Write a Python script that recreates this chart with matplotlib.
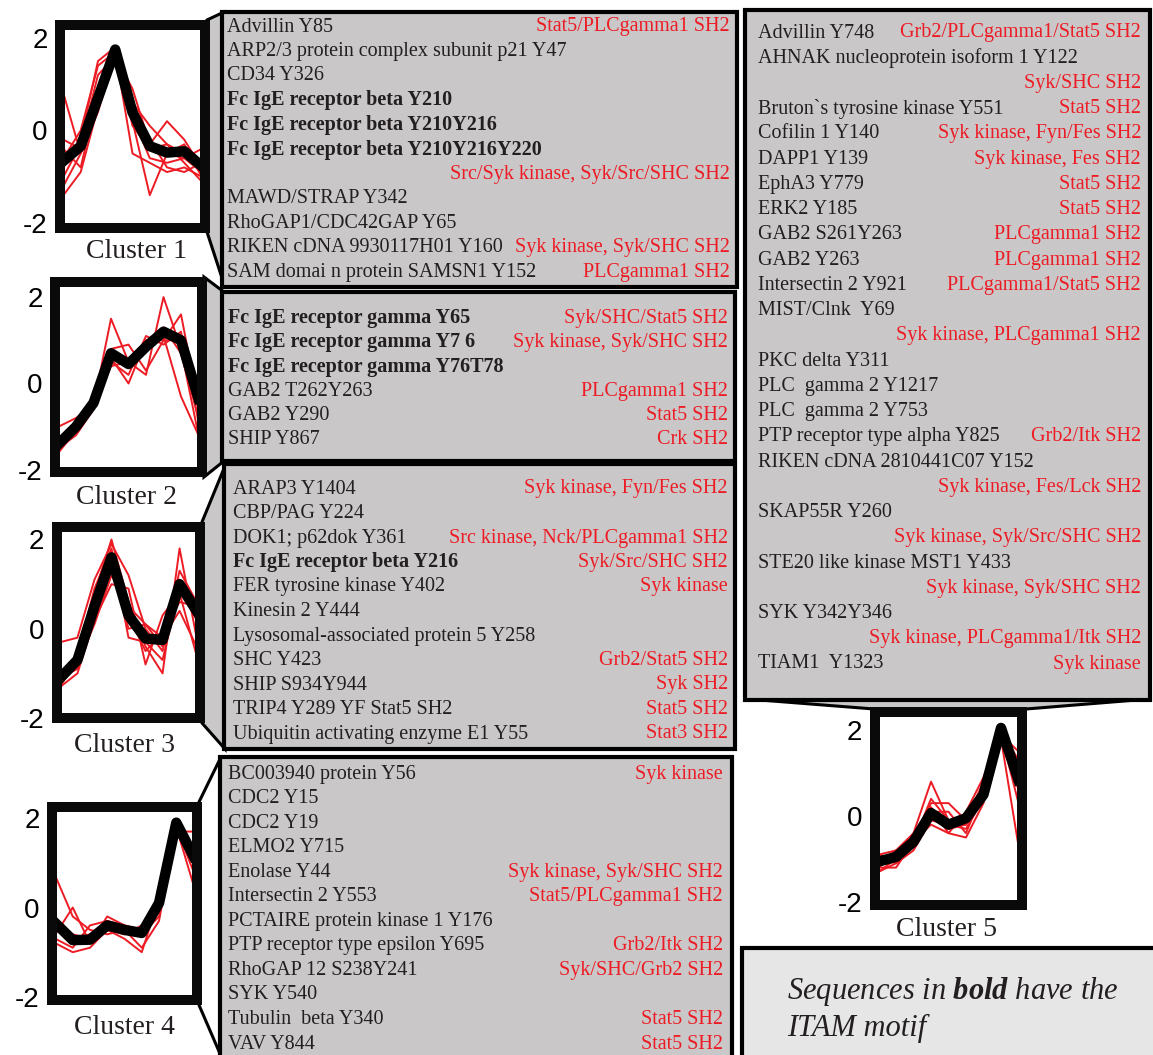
import numpy as np
import matplotlib.pyplot as plt
from matplotlib.patches import Rectangle, Polygon

W, H = 1153, 1055
RED = "#ED1C24"
INK = "#231F20"
BOX_GRAY = "#C9C7C8"
NOTE_GRAY = "#E6E6E6"

# ---- cluster profiles (9 time points, z-scored) ----
c1_profiles = [
    [-0.8, -0.2, 1.5, 1.8, 0.4, -0.3, -0.5, -0.6, -0.9],
    [0.8, -0.5, 0.6, 1.8, 0.6, 0.1, -0.3, -0.5, -0.8],
    [-1.4, -0.9, 0.5, 1.7, 0.2, -1.4, -0.5, -0.3, -1.0],
    [-1.0, -0.3, 1.2, 1.6, 0.9, -0.3, 0.2, -0.2, -0.8],
    [-0.4, -0.8, 0.8, 1.8, 0.3, -0.6, -0.7, -0.6, -0.4],
    [-0.6, 0.0, 1.4, 1.7, -0.5, -0.7, -0.9, -0.8, -1.0],
    [-1.2, -0.5, 0.4, 1.7, 0.6, -0.2, -0.8, -0.9, -0.7],
    [-0.2, -0.4, 0.9, 1.8, 0.1, -0.4, -0.3, -0.7, -1.1],
]
c1_mean = [-0.66, -0.34, 0.7, 1.75, 0.39, -0.34, -0.48, -0.45, -0.77]

c2_profiles = [
    [-1.0, -0.8, -0.5, 1.5, 0.5, 0.2, 2.0, 0.8, -1.2],
    [-1.5, -1.1, -0.3, 0.8, 0.9, 0.3, 1.0, 1.6, -0.5],
    [-1.3, -1.0, -0.5, 0.5, 0.2, 1.1, 0.9, 1.2, -0.9],
    [-1.5, -1.2, -0.6, 0.7, 0.4, 0.8, 1.3, 0.7, -0.8],
    [-1.4, -0.9, -0.3, 0.6, 0.0, 1.0, 1.1, -0.3, -1.2],
    [-1.6, -1.1, -0.5, 0.4, 0.5, 1.0, 1.0, 1.0, -0.6],
]
c2_mean = [-1.4, -1.0, -0.45, 0.7, 0.45, 0.85, 1.2, 1.0, -0.35]

c3_profiles = [
    [-1.2, -0.8, 0.8, 2.0, 0.6, -0.4, -1.0, 1.8, -0.2],
    [-0.3, -0.2, 1.1, 1.9, 1.2, 0.0, -0.5, 1.1, 0.3],
    [-1.3, -1.0, 0.2, 1.0, 0.9, -0.8, 0.3, 0.8, -0.6],
    [-1.1, -0.9, 0.4, 1.5, 0.0, 0.1, -0.4, 1.3, 0.6],
    [-1.2, -0.7, 0.6, 1.7, 0.3, -0.5, -0.1, 0.6, 0.5],
    [-1.3, -0.6, 0.9, 1.8, -0.2, -0.3, -0.7, 0.9, 0.2],
    [-1.0, -0.8, 0.1, 1.2, 0.5, 0.1, -0.2, 0.4, -0.4],
]
c3_mean = [-1.1, -0.7, 0.5, 1.6, 0.3, -0.22, -0.25, 1.0, 0.4]

c4_profiles = [
    [0.7, -0.2, -0.5, -0.6, -0.5, -0.9, -0.3, 1.8, 0.5],
    [-0.7, -0.9, -0.4, -0.3, -0.6, -0.5, 0.0, 1.7, 1.7],
    [-0.6, 0.0, -0.8, -0.2, -0.4, -0.6, -0.2, 1.9, 1.0],
    [-0.8, -1.0, -0.9, -0.5, -0.7, -1.0, 0.2, 1.6, 1.4],
    [-0.5, -0.7, -0.6, -0.3, -0.4, -0.5, -0.1, 1.8, 0.8],
    [-0.3, -0.6, -0.7, -0.5, -0.6, -0.4, 0.1, 1.9, 1.3],
]
c4_mean = [-0.35, -0.73, -0.72, -0.4, -0.5, -0.57, 0.1, 1.9, 1.15]

c5_profiles = [
    [-0.9, -0.8, -0.4, 0.8, -0.1, -0.2, 0.6, 1.9, 0.9],
    [-1.3, -1.0, -0.7, 0.2, -0.3, 0.0, 0.7, 1.8, -0.7],
    [-1.2, -1.2, -0.6, -0.2, -0.4, -0.5, 0.3, 2.0, 1.3],
    [-1.0, -0.9, -0.7, 0.3, 0.3, -0.1, 0.4, 2.0, 0.6],
    [-1.1, -1.0, -0.5, 0.0, -0.3, -0.2, 0.5, 1.9, 1.5],
    [-1.3, -1.1, -0.8, -0.1, -0.2, -0.1, 0.8, 2.0, 1.0],
    [-0.9, -1.0, -0.6, 0.1, 0.1, -0.4, 0.6, 1.9, 0.3],
    [-1.2, -0.9, -0.4, 0.2, -0.4, 0.1, 0.9, 2.0, 1.2],
    [-1.0, -1.1, -0.7, 0.0, -0.2, -0.3, 0.4, 1.8, 0.8],
    [-1.1, -0.8, -0.6, 0.4, -0.1, -0.2, 0.7, 2.0, 1.1],
]
c5_mean = [-1.06, -0.95, -0.6, 0.07, -0.2, -0.05, 0.5, 2.05, 0.84]

tick_values = [-2, 0, 2]
tick_labels = ["-2", "0", "2"]

# ---- phosphosites per cluster and their predicted binding partners ----
box1_names = ["Advillin Y85", "ARP2/3 protein complex subunit p21 Y47", "CD34 Y326",
              "Fc IgE receptor beta Y210", "Fc IgE receptor beta Y210Y216",
              "Fc IgE receptor beta Y210Y216Y220", "", "MAWD/STRAP Y342",
              "RhoGAP1/CDC42GAP Y65", "RIKEN cDNA 9930117H01 Y160",
              "SAM domai n protein SAMSN1 Y152"]
box1_sites = ["Stat5/PLCgamma1 SH2", "", "", "", "", "",
              "Src/Syk kinase, Syk/Src/SHC SH2", "", "",
              "Syk kinase, Syk/SHC SH2", "PLCgamma1 SH2"]
box1_bold = [3, 4, 5]

box2_names = ["Fc IgE receptor gamma Y65", "Fc IgE receptor gamma Y7 6",
              "Fc IgE receptor gamma Y76T78", "GAB2 T262Y263", "GAB2 Y290", "SHIP Y867"]
box2_sites = ["Syk/SHC/Stat5 SH2", "Syk kinase, Syk/SHC SH2", "",
              "PLCgamma1 SH2", "Stat5 SH2", "Crk SH2"]
box2_bold = [0, 1, 2]

box3_names = ["ARAP3 Y1404", "CBP/PAG Y224", "DOK1; p62dok Y361",
              "Fc IgE receptor beta Y216", "FER tyrosine kinase Y402", "Kinesin 2 Y444",
              "Lysosomal-associated protein 5 Y258", "SHC Y423", "SHIP S934Y944",
              "TRIP4 Y289 YF Stat5 SH2", "Ubiquitin activating enzyme E1 Y55"]
box3_sites = ["Syk kinase, Fyn/Fes SH2", "", "Src kinase, Nck/PLCgamma1 SH2",
              "Syk/Src/SHC SH2", "Syk kinase", "", "", "Grb2/Stat5 SH2", "Syk SH2",
              "Stat5 SH2", "Stat3 SH2"]
box3_bold = [3]

box4_names = ["BC003940 protein Y56", "CDC2 Y15", "CDC2 Y19", "ELMO2 Y715", "Enolase Y44",
              "Intersectin 2 Y553", "PCTAIRE protein kinase 1 Y176",
              "PTP receptor type epsilon Y695", "RhoGAP 12 S238Y241", "SYK Y540",
              "Tubulin  beta Y340", "VAV Y844"]
box4_sites = ["Syk kinase", "", "", "", "Syk kinase, Syk/SHC SH2", "Stat5/PLCgamma1 SH2",
              "", "Grb2/Itk SH2", "Syk/SHC/Grb2 SH2", "", "Stat5 SH2", "Stat5 SH2"]
box4_bold = []

box5_names = ["Advillin Y748", "AHNAK nucleoprotein isoform 1 Y122", "",
              "Bruton`s tyrosine kinase Y551", "Cofilin 1 Y140", "DAPP1 Y139", "EphA3 Y779",
              "ERK2 Y185", "GAB2 S261Y263", "GAB2 Y263", "Intersectin 2 Y921",
              "MIST/Clnk  Y69", "", "PKC delta Y311", "PLC  gamma 2 Y1217",
              "PLC  gamma 2 Y753", "PTP receptor type alpha Y825",
              "RIKEN cDNA 2810441C07 Y152", "", "SKAP55R Y260", "",
              "STE20 like kinase MST1 Y433", "", "SYK Y342Y346", "", "TIAM1  Y1323"]
box5_sites = ["Grb2/PLCgamma1/Stat5 SH2", "", "Syk/SHC SH2", "Stat5 SH2",
              "Syk kinase, Fyn/Fes SH2", "Syk kinase, Fes SH2", "Stat5 SH2", "Stat5 SH2",
              "PLCgamma1 SH2", "PLCgamma1 SH2", "PLCgamma1/Stat5 SH2", "",
              "Syk kinase, PLCgamma1 SH2", "", "", "", "Grb2/Itk SH2", "",
              "Syk kinase, Fes/Lck SH2", "", "Syk kinase, Syk/Src/SHC SH2", "",
              "Syk kinase, Syk/SHC SH2", "", "Syk kinase, PLCgamma1/Itk SH2", "Syk kinase"]
box5_bold = []

plt.rcParams["axes.unicode_minus"] = False
plt.rcParams["font.family"] = ["Liberation Serif", "DejaVu Serif"]
plt.rcParams["mathtext.fontset"] = "custom"
plt.rcParams["mathtext.bf"] = "Liberation Serif:italic:bold"
plt.rcParams["mathtext.rm"] = "Liberation Serif:italic"

fig = plt.figure(figsize=(W / 100, H / 100), dpi=100)
bg = fig.add_axes([0, 0, 1, 1], zorder=1)
bg.set_xlim(0, W)
bg.set_ylim(H, 0)
bg.axis("off")


def px_axes(x0, y0, x1, y1):
    return fig.add_axes([x0 / W, 1 - y1 / H, (x1 - x0) / W, (y1 - y0) / H], zorder=3)


def draw_cluster(rect, ylim, profiles, mean, label, label_xy):
    ax = px_axes(*rect)
    x = np.arange(len(mean))
    for p in profiles:
        ax.plot(x, p, color=RED, lw=1.4)
    ax.plot(x, mean, color="black", lw=7.5, solid_joinstyle="round")
    ax.set_xlim(-0.2, len(mean) - 0.8)
    ax.set_ylim(*ylim)
    ax.set_xticks([])
    ax.set_yticks(tick_values)
    ax.set_yticklabels(tick_labels, fontfamily="Liberation Sans")
    ax.tick_params(axis="y", length=0, pad=9, labelsize=20)
    for s in ax.spines.values():
        s.set_visible(False)
    ax.add_patch(Rectangle((0, 0), 1, 1, transform=ax.transAxes, fill=False,
                           edgecolor="#0a0a0a", lw=7.2, joinstyle="miter",
                           clip_on=False, zorder=5))
    bg.text(label_xy[0], label_xy[1], label, fontsize=20, color=INK,
            ha="center", va="center")


def draw_box(rect, names, sites, bold, text_x, site_x, y_first, dy):
    x0, y0, x1, y1 = rect
    bg.add_patch(Rectangle((x0, y0), x1 - x0, y1 - y0, facecolor=BOX_GRAY,
                           edgecolor="black", lw=3, zorder=2))
    for i, (name, site) in enumerate(zip(names, sites)):
        y = y_first + i * dy + 2
        if name:
            bg.text(text_x, y, name, fontsize=14.5, color=INK, va="center",
                    fontweight="bold" if i in bold else "normal", zorder=3)
        if site:
            bg.text(site_x, y, site, fontsize=14.5, color=RED, va="center",
                    ha="right", zorder=3)


def connector(points, fill=BOX_GRAY):
    bg.add_patch(Polygon(points, closed=True, facecolor=fill, edgecolor="black",
                         lw=2.2, joinstyle="miter", zorder=1))


# wedges linking each profile plot to its list
connector([(207, 20), (224, 12), (224, 284), (207, 232)])
connector([(204, 277), (224, 292), (224, 461), (204, 477)])
connector([(202, 522), (225, 466), (225, 749), (202, 723)])
connector([(199, 802), (221, 757), (221, 1056), (199, 1005)], fill="white")
connector([(747, 699), (1149, 699), (1026, 709), (874, 709)])

draw_box((222, 12, 737, 287), box1_names, box1_sites, box1_bold, 227, 730, 25, 24.5)
draw_box((222, 292, 735, 461), box2_names, box2_sites, box2_bold, 228, 728, 316, 24.4)
draw_box((224, 464, 735, 749), box3_names, box3_sites, box3_bold, 233, 728, 487, 24.5)
draw_box((220, 757, 732, 1062), box4_names, box4_sites, box4_bold, 228, 723, 772, 24.55)
draw_box((745, 10, 1150, 700), box5_names, box5_sites, box5_bold, 758, 1141, 31, 25.24)

draw_cluster((60, 25, 205, 228), (-2.11, 2.28), c1_profiles, c1_mean, "Cluster 1", (137, 252))
draw_cluster((55, 282, 202, 472), (-2.05, 2.35), c2_profiles, c2_mean, "Cluster 2", (127, 497))
draw_cluster((57, 527, 200, 718), (-1.89, 2.28), c3_profiles, c3_mean, "Cluster 3", (125, 746))
draw_cluster((52, 807, 197, 1000), (-2.07, 2.25), c4_profiles, c4_mean, "Cluster 4", (124, 1028))
draw_cluster((875, 712, 1022, 905), (-2.07, 2.42), c5_profiles, c5_mean, "Cluster 5", (946, 929))

# note box
bg.add_patch(Rectangle((742, 948), 430, 130, facecolor=NOTE_GRAY, edgecolor="black",
                       lw=3, zorder=2))
bg.text(787, 991, r"Sequences in $\mathbf{bold}$ have the", fontsize=22, style="italic",
        color=INK, va="center", zorder=3)
bg.text(787, 1028, "ITAM motif", fontsize=22, style="italic", color=INK,
        va="center", zorder=3)

fig.savefig("out.png", dpi=100)
